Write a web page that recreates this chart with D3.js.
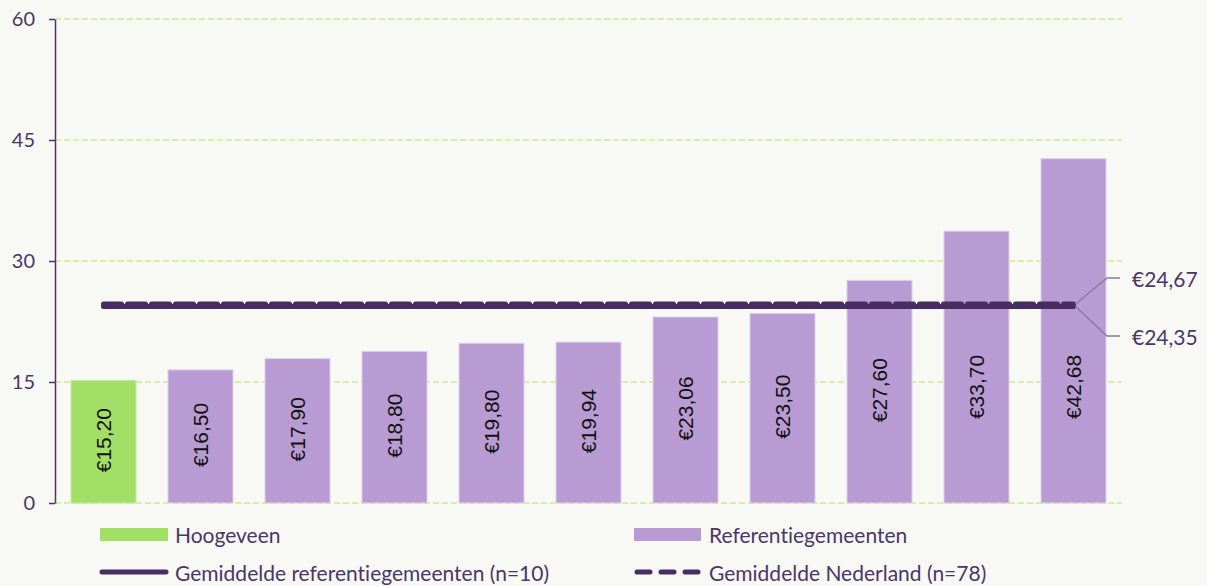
<!DOCTYPE html>
<html>
<head>
<meta charset="utf-8">
<script src="https://cdn.jsdelivr.net/npm/d3@7"></script>
<style>
  body { margin: 0; background: #f8f8f4; }
  svg { display: block; font-family: Lato, "Open Sans", sans-serif; font-variant-ligatures: none; }
</style>
</head>
<body>
<div id="chart"></div>
<script>
// data
var categories = ["Hoogeveen", "Ref 1", "Ref 2", "Ref 3", "Ref 4", "Ref 5", "Ref 6", "Ref 7", "Ref 8", "Ref 9", "Ref 10"];
var values = [15.20, 16.50, 17.90, 18.80, 19.80, 19.94, 23.06, 23.50, 27.60, 33.70, 42.68];
var yTicks = [0, 15, 30, 45, 60];
var refAvg = 24.35;   // gemiddelde referentiegemeenten
var nlAvg = 24.67;    // gemiddelde Nederland
var legendLabels = ["Hoogeveen", "Referentiegemeenten", "Gemiddelde referentiegemeenten (n=10)", "Gemiddelde Nederland (n=78)"];

var svgWidth = 1207;
var svgHeight = 586;
var textColor = "#4b3666";
var lineColor = "#472d62";
var green = "#a3de66";
var purple = "#b89bd2";

var svg = d3.select("#chart")
  .append("svg")
  .attr("width", svgWidth)
  .attr("height", svgHeight);

var fmt = function(v) { return "€" + v.toFixed(2).replace(".", ","); };

var x = d3.scaleBand()
  .domain(categories)
  .range([55, 1122])
  .paddingInner(0.33)
  .paddingOuter(0.165);

var y = d3.scaleLinear()
  .domain([0, 60])
  .range([503, 19]);

// gridlines
svg.append("g")
  .selectAll("line")
  .data(yTicks)
  .enter()
  .append("line")
  .attr("x1", 55)
  .attr("x2", 1122)
  .attr("y1", d => y(d))
  .attr("y2", d => y(d))
  .attr("stroke", "#c6f08c")
  .attr("stroke-width", 1.5)
  .attr("stroke-dasharray", "6,3");

// y axis
var yAxis = svg.append("g")
  .attr("transform", "translate(55,0)")
  .call(d3.axisLeft(y).tickValues(yTicks).tickSize(6).tickSizeOuter(0).tickPadding(14));
yAxis.select(".domain").attr("stroke", textColor).attr("stroke-width", 1.5);
yAxis.selectAll(".tick line").attr("stroke", textColor).attr("stroke-width", 1.5);
yAxis.selectAll(".tick text")
  .attr("fill", textColor)
  .style("font-family", "Lato, sans-serif")
  .style("font-size", "20px");

// bars
svg.append("g")
  .selectAll("rect")
  .data(values)
  .enter()
  .append("rect")
  .attr("x", (d, i) => x(categories[i]))
  .attr("y", d => y(d))
  .attr("width", x.bandwidth())
  .attr("height", d => y(0) - y(d))
  .attr("fill", (d, i) => i === 0 ? green : purple)
  .attr("stroke", (d, i) => i === 0 ? "#c4ec9a" : "#ddd0ea")
  .attr("stroke-width", 1);

// bar labels (rotated)
svg.append("g")
  .selectAll("text")
  .data(values)
  .enter()
  .append("text")
  .attr("transform", function(d, i) {
    var cx = x(categories[i]) + x.bandwidth() / 2;
    var cy = Math.max((y(d) + y(0)) / 2 - 1.5, 387);
    return "translate(" + cx + "," + cy + ") rotate(-90)";
  })
  .attr("text-anchor", "middle")
  .attr("dominant-baseline", "central")
  .style("font-family", "'Liberation Sans', Arial, sans-serif")
  .style("font-size", "21px")
  .attr("fill", "#111")
  .text(d => fmt(d));

// average lines
var x0 = x(categories[0]) + x.bandwidth() / 2;
var x1 = x(categories[categories.length - 1]) + x.bandwidth() / 2;

svg.append("line")
  .attr("x1", x0).attr("x2", x1)
  .attr("y1", y(refAvg)).attr("y2", y(refAvg))
  .attr("stroke", lineColor)
  .attr("stroke-width", 5)
  .attr("stroke-linecap", "round");

svg.append("line")
  .attr("x1", x0).attr("x2", x1)
  .attr("y1", y(nlAvg)).attr("y2", y(nlAvg))
  .attr("stroke", lineColor)
  .attr("stroke-width", 5)
  .attr("stroke-linecap", "round")
  .attr("stroke-dasharray", "18,6");

// value callouts on the right
var callouts = [
  {v: nlAvg, ly: 278},
  {v: refAvg, ly: 336}
];
callouts.forEach(function(c) {
  svg.append("polyline")
    .attr("points", [[x1 + 2, y(c.v)], [1107, c.ly], [1120, c.ly]].join(" "))
    .attr("fill", "none")
    .attr("stroke", "#8c7a9c")
    .attr("stroke-width", 1.5);
  svg.append("text")
    .attr("x", 1132)
    .attr("y", c.ly)
    .attr("dominant-baseline", "central")
    .attr("fill", textColor)
    .style("font-size", "21px")
    .text(fmt(c.v));
});

// legend
var legend = svg.append("g");
var cols = [100, 634];
var rows = [534, 572];

legend.append("rect")
  .attr("x", cols[0]).attr("y", rows[0] - 6)
  .attr("width", 68).attr("height", 13)
  .attr("fill", green);
legend.append("rect")
  .attr("x", cols[1]).attr("y", rows[0] - 6)
  .attr("width", 67).attr("height", 13)
  .attr("fill", purple);
legend.append("line")
  .attr("x1", cols[0] + 2).attr("x2", cols[0] + 66)
  .attr("y1", rows[1]).attr("y2", rows[1])
  .attr("stroke", lineColor).attr("stroke-width", 5)
  .attr("stroke-linecap", "round");
legend.append("line")
  .attr("x1", cols[1] + 3).attr("x2", cols[1] + 64)
  .attr("y1", rows[1]).attr("y2", rows[1])
  .attr("stroke", lineColor).attr("stroke-width", 5)
  .attr("stroke-linecap", "round")
  .attr("stroke-dasharray", "13,11");

var legendPos = [[cols[0], rows[0]], [cols[1], rows[0]], [cols[0], rows[1]], [cols[1], rows[1]]];
legend.selectAll("text")
  .data(legendLabels)
  .enter()
  .append("text")
  .attr("x", (d, i) => legendPos[i][0] + 75)
  .attr("y", (d, i) => legendPos[i][1])
  .attr("dominant-baseline", "central")
  .attr("fill", textColor)
  .style("font-size", "21px")
  .text(d => d);
</script>
</body>
</html>
